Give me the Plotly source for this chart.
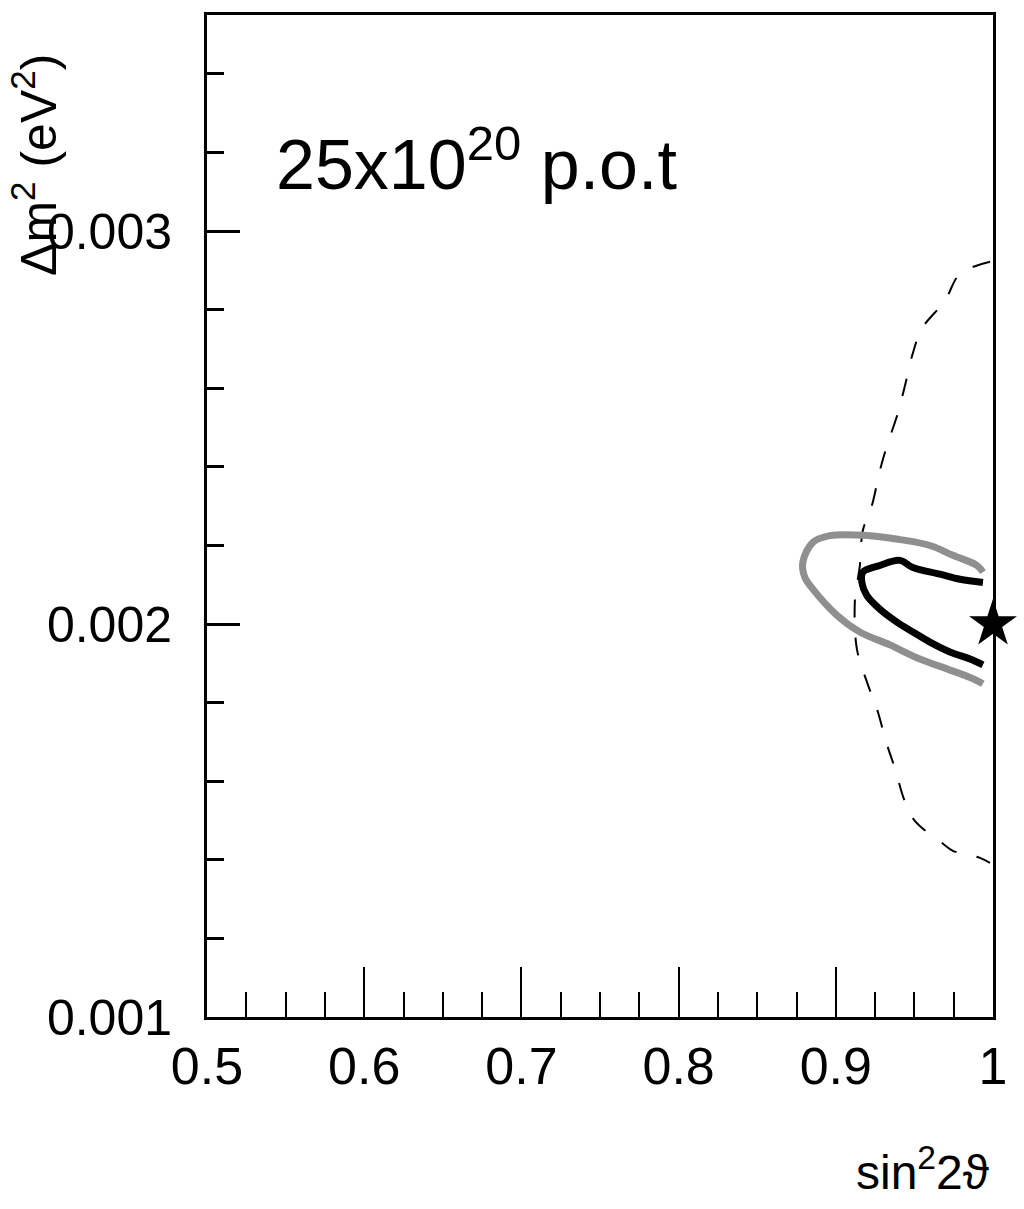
import plotly.graph_objects as go

# Gray contour (outer)
gray_x = [0.9936, 0.9898, 0.9745, 0.9599, 0.9408, 0.9217, 0.8962, 0.8854, 0.8790, 0.8803,
          0.8854, 0.9006, 0.9153, 0.9344, 0.9535, 0.9707, 0.9873, 0.9936]
gray_y = [0.002132, 0.002149, 0.002175, 0.002200, 0.002215, 0.002225, 0.002225, 0.002208, 0.002157, 0.002119,
          0.002089, 0.002023, 0.001980, 0.001947, 0.001911, 0.001886, 0.001861, 0.001848]

# Black contour (inner)
black_x = [0.9936, 0.9790, 0.9662, 0.9490, 0.9408, 0.9280, 0.9172, 0.9166, 0.9197, 0.9280,
           0.9389, 0.9490, 0.9599, 0.9726, 0.9854, 0.9936]
black_y = [0.002106, 0.002114, 0.002127, 0.002144, 0.002162, 0.002149, 0.002132, 0.002106, 0.002073, 0.002038,
           0.002005, 0.001980, 0.001954, 0.001929, 0.001911, 0.001896]

# Dashed contour
dash_x = [0.9981, 0.9790, 0.9694, 0.9548, 0.9490, 0.9439, 0.9395, 0.9325, 0.9280, 0.9229,
          0.9172, 0.9153, 0.9134, 0.9121, 0.9134, 0.9204, 0.9261, 0.9325, 0.9376, 0.9439,
          0.9503, 0.9682, 0.9745, 0.9917, 0.9981]
dash_y = [0.002922, 0.002891, 0.002823, 0.002752, 0.002689, 0.002605, 0.002537, 0.002453, 0.002390, 0.002301,
          0.002238, 0.002149, 0.002099, 0.002056, 0.001937, 0.001846, 0.001785, 0.001694, 0.001633, 0.001549,
          0.001499, 0.001441, 0.001423, 0.001405, 0.001392]

# Best-fit / true point
star_x = [1.0]
star_y = [0.002]

FONT = "Liberation Sans, Arial, sans-serif"

fig = go.Figure()
fig.add_trace(go.Scatter(x=dash_x, y=dash_y, mode="lines",
                         line=dict(color="black", width=2, dash="18px,20px", shape="spline"),
                         showlegend=False))
fig.add_trace(go.Scatter(x=gray_x, y=gray_y, mode="lines",
                         line=dict(color="#8f8f8f", width=7, shape="spline"), showlegend=False))
fig.add_trace(go.Scatter(x=black_x, y=black_y, mode="lines",
                         line=dict(color="black", width=7, shape="spline"), showlegend=False))
fig.add_trace(go.Scatter(x=star_x, y=star_y, mode="markers",
                         marker=dict(symbol="star", size=36, color="black"),
                         cliponaxis=False, showlegend=False))

fig.update_layout(
    width=1024, height=1209,
    margin=dict(l=207, r=31, t=15, b=192),
    plot_bgcolor="white", paper_bgcolor="white",
    font=dict(family=FONT, color="black"),
    xaxis=dict(range=[0.5, 1.0], tick0=0.5, dtick=0.1, ticks="inside", ticklen=50, tickwidth=2,
               tickcolor="black", showline=True, linecolor="black", linewidth=3, mirror=True,
               showgrid=False, zeroline=False, tickfont=dict(size=52, family=FONT),
               ticklabelstandoff=2,
               minor=dict(dtick=0.025, tick0=0.5, ticks="inside", ticklen=25, tickwidth=2,
                          tickcolor="black", showgrid=False)),
    yaxis=dict(range=[0.001, 0.00355], tick0=0.001, dtick=0.001, tickformat=".3f",
               ticks="inside", ticklen=33, tickwidth=3, tickcolor="black",
               showline=True, linecolor="black", linewidth=3, mirror=True,
               showgrid=False, zeroline=False, tickfont=dict(size=50, family=FONT),
               ticklabelstandoff=22,
               minor=dict(dtick=0.0002, tick0=0.001, ticks="inside", ticklen=17, tickwidth=3,
                          tickcolor="black", showgrid=False)),
)

fig.add_annotation(text="25x10<sup>20</sup> p.o.t", xref="paper", yref="paper",
                   x=0.085, y=0.855, xanchor="left", yanchor="middle", showarrow=False,
                   font=dict(size=70, family=FONT, color="black"))
fig.add_annotation(text="Δm<sup>2</sup> (eV<sup>2</sup>)", xref="paper", yref="paper",
                   x=-0.218, y=0.85, xanchor="center", yanchor="middle", textangle=-90,
                   showarrow=False, font=dict(size=50, family=FONT, color="black"))
fig.add_annotation(text="sin<sup>2</sup>2ϑ", xref="paper", yref="paper",
                   x=0.9975, y=-0.152, xanchor="right", yanchor="middle", showarrow=False,
                   font=dict(size=48, family=FONT, color="black"))

fig.write_html("out.html")
